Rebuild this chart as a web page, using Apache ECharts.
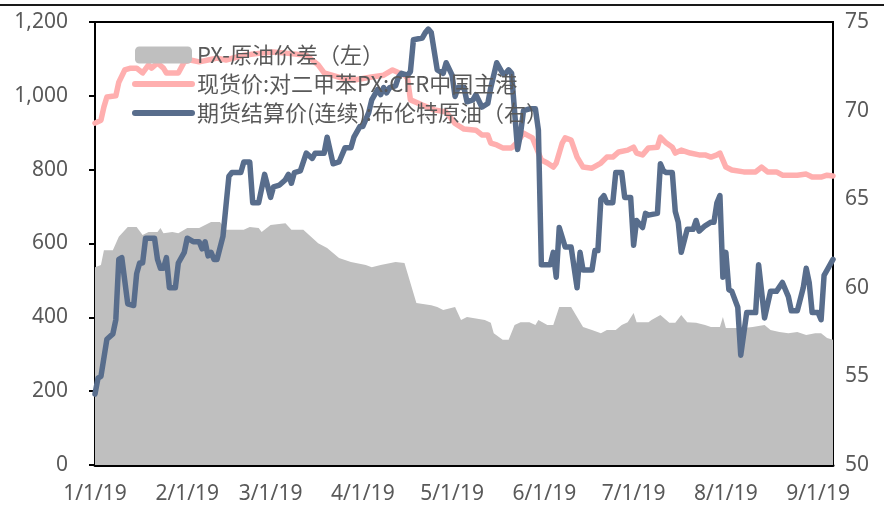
<!DOCTYPE html>
<html>
<head>
<meta charset="utf-8">
<script src="https://cdn.jsdelivr.net/npm/echarts@6/dist/echarts.min.js"></script>
<style>html,body{margin:0;padding:0;background:#fff;}#c{width:884px;height:507px;}</style>
</head>
<body>
<div id="c"></div>
<script>
// Tick labels
const monthTicks = ['2019-01-01','2019-02-01','2019-03-01','2019-04-01','2019-05-01','2019-06-01','2019-07-01','2019-08-01','2019-09-01'];

// PX-原油价差（左）
const spreadDates = ['01-01','01-03','01-04','01-07','01-09','01-12','01-15','01-17','01-19','01-22','01-23','01-24','01-27','01-29','02-01','02-05','02-09','02-12','02-14','02-20','02-22','02-25','02-26','03-01','03-06','03-08','03-12','03-17','03-20','03-24','03-28','04-02','04-04','04-07','04-12','04-15','04-16','04-19','04-24','04-26','04-28','05-02','05-04','05-06','05-08','05-12','05-14','05-15','05-18','05-20','05-22','05-24','05-27','05-29','05-30','06-02','06-04','06-06','06-10','06-12','06-14','06-17','06-20','06-22','06-25','06-27','06-29','07-01','07-02','07-06','07-07','07-10','07-13','07-15','07-17','07-19','07-22','07-25','07-27','07-30','07-31','08-01','08-04','08-07','08-10','08-14','08-16','08-19','08-22','08-25','08-28','08-31','09-02','09-04','09-06'];
const spreadValues = [536,542,582,582,618,645,645,623,631,631,642,628,631,628,642,642,658,658,637,637,645,642,631,650,655,637,637,601,588,561,550,542,536,542,550,547,520,439,433,428,420,428,393,401,398,393,385,357,339,339,379,387,387,379,393,379,379,428,428,401,374,366,357,366,366,379,387,412,387,387,393,406,385,385,406,387,385,379,374,374,401,371,371,371,374,379,366,360,357,360,352,357,357,344,339];

// 现货价:对二甲苯PX:CFR中国主港
const pxDates = ['01-01','01-03','01-04','01-05','01-08','01-09','01-11','01-13','01-15','01-17','01-19','01-20','01-22','01-24','01-25','01-29','01-31','02-02','02-05','02-08','02-11','02-14','02-20','02-25','03-02','03-07','03-13','03-17','03-19','03-25','03-29','04-04','04-08','04-11','04-15','04-16','04-17','04-21','04-25','04-29','05-02','05-05','05-09','05-11','05-13','05-14','05-16','05-18','05-21','05-23','05-25','05-28','05-31','06-02','06-04','06-05','06-07','06-08','06-10','06-12','06-14','06-17','06-20','06-22','06-24','06-26','06-29','07-01','07-02','07-04','07-06','07-09','07-10','07-12','07-14','07-15','07-17','07-20','07-23','07-25','07-27','07-29','07-30','08-01','08-03','08-07','08-11','08-13','08-15','08-18','08-20','08-25','08-28','08-30','09-02','09-04','09-06'];
const pxValues = [926,934,970,997,1000,1037,1070,1075,1075,1062,1084,1075,1089,1075,1062,1062,1092,1097,1092,1097,1102,1097,1110,1115,1119,1115,1110,1084,1062,1048,1043,1051,1056,1070,1056,1048,989,975,962,956,925,910,907,894,894,872,867,859,859,875,899,886,826,818,807,818,872,886,880,834,807,804,818,834,834,848,853,861,845,840,859,861,888,872,861,845,853,845,840,840,834,840,845,807,799,794,794,807,794,794,785,785,788,780,780,785,783];

// 期货结算价(连续):布伦特原油（右）
const brentDates = ['01-01','01-02','01-03','01-05','01-07','01-08','01-09','01-10','01-12','01-14','01-15','01-16','01-17','01-18','01-21','01-22','01-23','01-24','01-25','01-26','01-28','01-29','01-31','02-01','02-03','02-05','02-06','02-07','02-08','02-09','02-10','02-11','02-13','02-14','02-15','02-16','02-19','02-20','02-22','02-23','02-25','02-27','03-01','03-02','03-04','03-06','03-07','03-08','03-09','03-11','03-13','03-15','03-16','03-19','03-20','03-22','03-24','03-26','03-28','03-29','03-31','04-01','04-03','04-04','04-06','04-07','04-08','04-09','04-10','04-12','04-13','04-14','04-16','04-17','04-18','04-21','04-22','04-23','04-24','04-26','04-28','04-29','05-01','05-02','05-03','05-05','05-06','05-08','05-09','05-11','05-13','05-14','05-16','05-18','05-19','05-20','05-21','05-23','05-24','05-25','05-27','05-29','05-30','05-31','06-03','06-04','06-05','06-06','06-08','06-10','06-12','06-13','06-14','06-17','06-18','06-19','06-20','06-21','06-22','06-24','06-25','06-27','06-28','06-30','07-01','07-02','07-04','07-05','07-06','07-09','07-10','07-11','07-12','07-14','07-15','07-16','07-17','07-19','07-21','07-22','07-23','07-25','07-27','07-28','07-29','07-30','07-31','08-01','08-02','08-03','08-05','08-06','08-08','08-09','08-11','08-12','08-14','08-16','08-18','08-20','08-22','08-23','08-25','08-27','08-28','08-29','08-30','09-01','09-02','09-03','09-04','09-06'];
const brentValues = [54.0,54.9,55.0,57.1,57.4,58.2,61.6,61.7,59.1,59.0,60.8,61.4,61.4,62.8,62.8,61.6,61.1,61.1,61.7,60.0,60.0,61.4,62.0,62.8,62.6,62.6,62.2,62.6,61.8,62.0,61.6,61.6,62.9,64.6,66.3,66.5,66.5,67.1,67.1,64.8,64.8,66.4,65.1,65.7,65.8,66.1,66.4,65.9,66.5,66.6,67.6,67.3,67.6,67.6,68.5,67.0,67.1,67.9,67.9,68.5,69.1,69.1,69.9,70.6,71.2,70.9,71.3,71.0,71.3,71.4,71.9,72.1,72.0,72.2,74.0,74.1,74.4,74.6,74.4,72.3,72.1,72.7,72.0,70.8,71.3,71.3,70.5,70.6,70.9,70.2,70.4,71.3,72.7,72.1,72.1,72.3,72.1,67.8,68.7,70.0,70.1,70.1,68.9,61.3,61.3,62.0,60.6,63.4,62.3,62.3,60.0,62.0,61.0,61.0,62.1,62.1,65.0,65.2,64.8,64.8,66.5,66.5,65.1,65.1,62.4,63.8,63.4,64.2,64.1,64.2,67.0,66.6,66.5,66.5,64.3,63.7,62.0,63.3,63.3,63.8,63.2,63.5,63.7,63.7,64.8,65.2,60.6,62.0,59.9,59.8,58.9,56.2,58.6,58.6,58.6,61.3,58.3,59.8,59.8,60.3,59.5,58.7,58.7,60.0,61.1,60.3,58.6,58.6,58.2,60.7,61.0,61.6];

const names = ['PX-原油价差（左）', '现货价:对二甲苯PX:CFR中国主港', '期货结算价(连续):布伦特原油（右）'];

function toTs(s) { const p = s.split('-').map(Number); return new Date(p[0], p[1]-1, p[2]).getTime(); }
function zip(dates, vals) { return dates.map((d, i) => [toTs('2019-' + d), vals[i]]); }

const fontLatin = "'Noto Sans', 'Liberation Sans', sans-serif";
const fontLegend = "'Noto Sans CJK SC', 'Noto Sans', sans-serif";

const chart = echarts.init(document.getElementById('c'), null, {renderer: 'canvas'});
chart.setOption({
  animation: false,
  backgroundColor: '#fff',
  graphic: [{
    type: 'line', shape: {x1: 0, y1: 5, x2: 884, y2: 5},
    style: {stroke: '#1a1a1a', lineWidth: 2}, z: 10
  }],
  grid: {left: 95, right: 51, top: 22, bottom: 42, show: true, borderColor: '#000', borderWidth: 2, backgroundColor: 'transparent'},
  legend: {
    orient: 'vertical', left: 127, top: 39, itemWidth: 57, itemHeight: 17, itemGap: 7,
    textStyle: {fontSize: 22, color: '#595959', fontFamily: fontLegend},
    data: [
      {name: names[0], icon: 'roundRect'},
      {name: names[1], itemStyle: {opacity: 0}, lineStyle: {cap: 'round', width: 6}},
      {name: names[2], itemStyle: {opacity: 0}, lineStyle: {cap: 'round', width: 6}}
    ]
  },
  xAxis: {
    type: 'value',
    min: toTs('2019-01-01'), max: toTs('2019-09-06'),
    axisLine: {lineStyle: {color: '#000', width: 3}},
    axisTick: {show: false},
    splitLine: {show: false},
    axisLabel: {
      customValues: monthTicks.map(toTs),
      margin: 19, fontSize: 21, color: '#595959', fontFamily: fontLatin,
      formatter: function (v) { const d = new Date(v); return (d.getMonth()+1) + '/' + d.getDate() + '/19'; }
    }
  },
  yAxis: [{
    type: 'value', min: 0, max: 1200, interval: 200, position: 'left',
    axisLine: {show: true, lineStyle: {color: '#000', width: 2}},
    axisTick: {show: true, length: 6, lineStyle: {color: '#000', width: 2}},
    splitLine: {show: false},
    axisLabel: {margin: 27, fontSize: 21, color: '#595959', fontFamily: fontLatin,
      formatter: v => v.toLocaleString('en-US')}
  }, {
    type: 'value', min: 50, max: 75, interval: 5, position: 'right',
    axisLine: {show: true, lineStyle: {color: '#000', width: 2}},
    axisTick: {show: false},
    splitLine: {show: false},
    axisLabel: {margin: 12, fontSize: 21, color: '#595959', fontFamily: fontLatin}
  }],
  series: [{
    name: names[0], type: 'line', yAxisIndex: 0, symbol: 'none',
    data: zip(spreadDates, spreadValues),
    itemStyle: {color: '#BFBFBF'},
    lineStyle: {width: 0, color: '#BFBFBF'},
    areaStyle: {color: '#BFBFBF', opacity: 1},
    z: 1
  }, {
    name: names[1], type: 'line', yAxisIndex: 0, symbol: 'none',
    data: zip(pxDates, pxValues),
    itemStyle: {color: '#FFAFAF'},
    lineStyle: {width: 5.5, color: '#FFAFAF', cap: 'round', join: 'round'},
    z: 2
  }, {
    name: names[2], type: 'line', yAxisIndex: 1, symbol: 'none',
    data: zip(brentDates, brentValues),
    itemStyle: {color: '#586D8C'},
    lineStyle: {width: 5.5, color: '#586D8C', cap: 'round', join: 'round'},
    z: 3
  }]
});
</script>
</body>
</html>
